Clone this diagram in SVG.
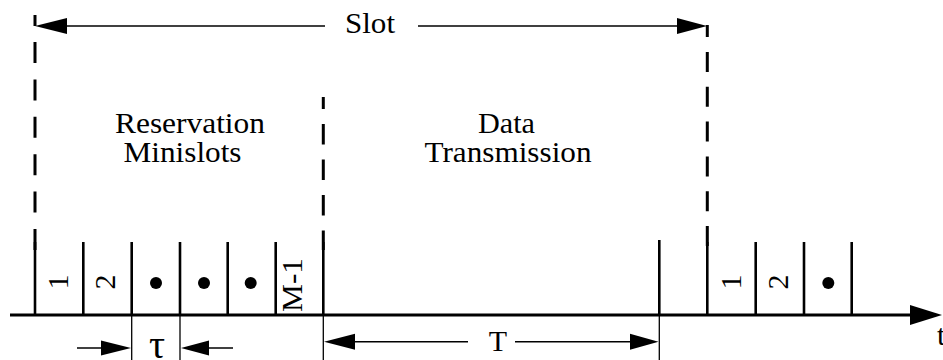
<svg xmlns="http://www.w3.org/2000/svg" width="943" height="360" viewBox="0 0 943 360">
  <defs>
    <style>
      .lbl { font-family: "Liberation Serif", "Times New Roman", serif; font-size: 30px; fill: #000; }
      .mid { text-anchor: middle; }
      .axis { stroke: #000; stroke-width: 3; fill: none; }
      .tick { stroke: #000; stroke-width: 2.6; fill: none; }
      .dash { stroke: #000; stroke-width: 3; fill: none; }
      .dim { stroke: #000; stroke-width: 1.5; fill: none; }
      .ext { stroke: #000; stroke-width: 1.3; fill: none; }
      .head { fill: #000; stroke: none; }
      .dot { fill: #000; }
    </style>
  </defs>

  <!-- time axis -->
  <g id="time-axis">
    <line class="axis" x1="10" y1="315" x2="912" y2="315"/>
    <polygon class="head" points="910,305 942,315 910,325"/>
    <text class="lbl" x="937" y="345">t</text>
  </g>

  <!-- slot boundaries (dashed) -->
  <g id="slot-boundaries">
    <line class="dash" x1="35" y1="15" x2="35" y2="26"/>
    <line class="dash" x1="35" y1="42" x2="35" y2="250" stroke-dasharray="21 16.4"/>
    <line class="dash" x1="323.3" y1="97" x2="323.3" y2="109"/>
    <line class="dash" x1="323.3" y1="124" x2="323.3" y2="250" stroke-dasharray="20.5 15"/>
    <line class="dash" x1="707.3" y1="25" x2="707.3" y2="37"/>
    <line class="dash" x1="707.3" y1="52" x2="707.3" y2="250" stroke-dasharray="20 14.8"/>
  </g>

  <!-- minislot ticks -->
  <g id="minislot-ticks">
    <line class="tick" x1="35" y1="242" x2="35" y2="315"/>
    <line class="tick" x1="83.3" y1="242" x2="83.3" y2="315"/>
    <line class="tick" x1="131.7" y1="242" x2="131.7" y2="315"/>
    <line class="tick" x1="180" y1="242" x2="180" y2="315"/>
    <line class="tick" x1="227.7" y1="242" x2="227.7" y2="315"/>
    <line class="tick" x1="275.7" y1="242" x2="275.7" y2="315"/>
    <line class="tick" x1="323.3" y1="242" x2="323.3" y2="315"/>
    <line class="tick" x1="659.3" y1="240" x2="659.3" y2="315"/>
    <line class="tick" x1="707.3" y1="242" x2="707.3" y2="315"/>
    <line class="tick" x1="755.7" y1="242" x2="755.7" y2="315"/>
    <line class="tick" x1="804" y1="242" x2="804" y2="315"/>
    <line class="tick" x1="851.7" y1="242" x2="851.7" y2="315"/>
  </g>

  <!-- minislot labels -->
  <g id="minislot-labels">
    <text class="lbl mid" transform="translate(68,282) rotate(-90)">1</text>
    <text class="lbl mid" transform="translate(115,282) rotate(-90)">2</text>
    <circle class="dot" cx="156" cy="283" r="6"/>
    <circle class="dot" cx="204" cy="283" r="6"/>
    <circle class="dot" cx="250.7" cy="283" r="6"/>
    <text class="lbl mid" transform="translate(302,285) rotate(-90)" textLength="54" lengthAdjust="spacingAndGlyphs">M-1</text>
    <text class="lbl mid" transform="translate(741,282) rotate(-90)">1</text>
    <text class="lbl mid" transform="translate(788,282) rotate(-90)">2</text>
    <circle class="dot" cx="828.3" cy="283" r="6"/>
  </g>

  <!-- region titles -->
  <g id="reservation-label">
    <text class="lbl mid" x="190" y="133" textLength="150" lengthAdjust="spacingAndGlyphs">Reservation</text>
    <text class="lbl mid" x="182.5" y="162" textLength="118" lengthAdjust="spacingAndGlyphs">Minislots</text>
  </g>
  <g id="data-label">
    <text class="lbl mid" x="506.5" y="133" textLength="57" lengthAdjust="spacingAndGlyphs">Data</text>
    <text class="lbl mid" x="508" y="162" textLength="167" lengthAdjust="spacingAndGlyphs">Transmission</text>
  </g>

  <!-- dimension arrows -->
  <g id="connectors">
    <!-- slot span -->
    <line class="dim" x1="60" y1="26" x2="325" y2="26"/>
    <line class="dim" x1="418" y1="26" x2="685" y2="26"/>
    <polygon class="head" points="35,26 67,18 67,34"/>
    <polygon class="head" points="707,26 677,18 677,34"/>
    <text class="lbl mid" x="370" y="33" textLength="50" lengthAdjust="spacingAndGlyphs">Slot</text>

    <!-- minislot width tau -->
    <line class="ext" x1="131.7" y1="315" x2="131.7" y2="360"/>
    <line class="ext" x1="180" y1="315" x2="180" y2="360"/>
    <line class="dim" x1="77" y1="348" x2="105" y2="348"/>
    <polygon class="head" points="131,348 101,340.5 101,355.5"/>
    <line class="dim" x1="205" y1="348" x2="233" y2="348"/>
    <polygon class="head" points="181,348 209,340.5 209,355.5"/>
    <text class="lbl mid" x="157" y="358" style="font-size:40px">τ</text>

    <!-- data period T -->
    <line class="ext" x1="323.3" y1="315" x2="323.3" y2="360"/>
    <line class="ext" x1="659.3" y1="315" x2="659.3" y2="360"/>
    <line class="dim" x1="350" y1="341.7" x2="468" y2="341.7"/>
    <line class="dim" x1="515" y1="341.7" x2="635" y2="341.7"/>
    <polygon class="head" points="324,341.7 355,333.7 355,349.7"/>
    <polygon class="head" points="658.5,341.7 630,333.7 630,349.7"/>
    <text class="lbl mid" x="498" y="351">T</text>
  </g>
</svg>
